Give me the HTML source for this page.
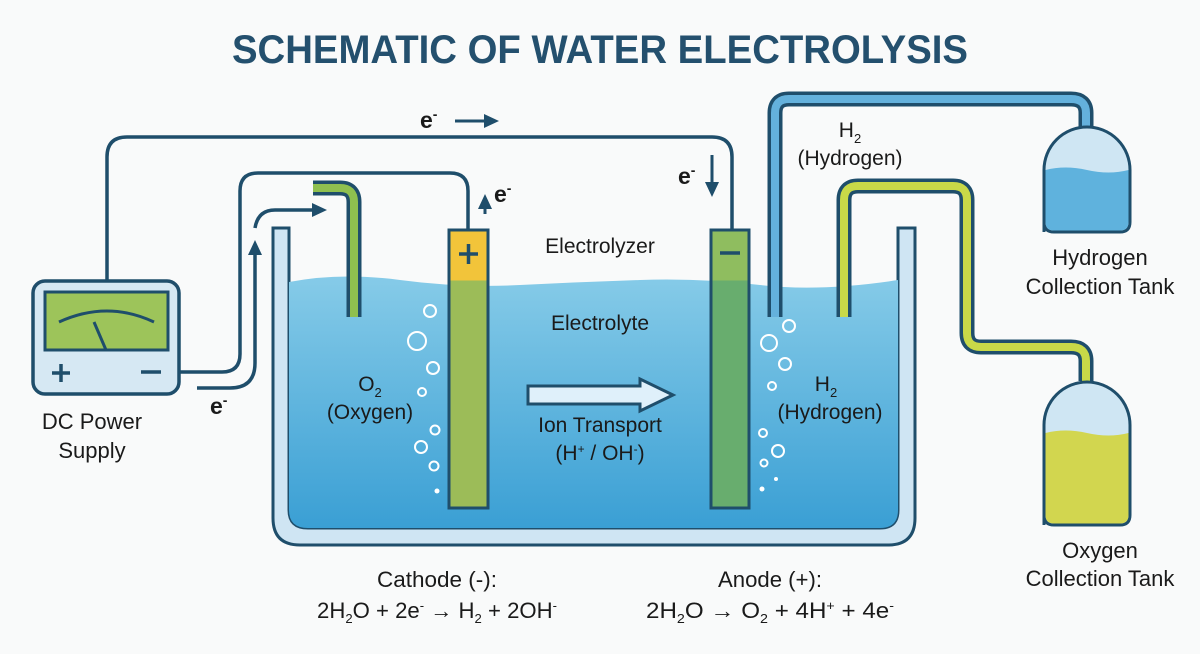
<!DOCTYPE html>
<html><head><meta charset="utf-8"><style>
html,body{margin:0;padding:0;background:#f9fafa;}
svg{display:block;}
text{font-family:"Liberation Sans",sans-serif;fill:#1a1a1a;}
</style></head><body>
<svg width="1200" height="654" viewBox="0 0 1200 654" xmlns="http://www.w3.org/2000/svg">
<defs>
<linearGradient id="water" x1="0" y1="0" x2="0" y2="1">
<stop offset="0" stop-color="#86cbe8"/><stop offset="1" stop-color="#3a9fd4"/>
</linearGradient>
<marker id="ah" markerWidth="16" markerHeight="14" refX="10" refY="7" orient="auto" markerUnits="userSpaceOnUse">
<path d="M0,0 L15,7 L0,14 Z" fill="#1f4e6b"/></marker>
</defs>
<rect width="1200" height="654" fill="#f9fafa"/>
<text x="600" y="63" text-anchor="middle" font-size="40" font-weight="bold" style="fill:#24506e" textLength="736" lengthAdjust="spacingAndGlyphs">SCHEMATIC OF WATER ELECTROLYSIS</text>

<!-- wires -->
<path d="M107,280 V157 Q107,137 127,137 H712 Q732,137 732,157 V230" fill="none" stroke="#1f4e6b" stroke-width="3.5"/>
<path d="M180,372 H222 Q240,372 240,354 V191 Q240,173 258,173 H450 Q468,173 468,191 V230" fill="none" stroke="#1f4e6b" stroke-width="3.5"/>
<path d="M197,388 H230 Q255,388 255,363 V245" fill="none" stroke="#1f4e6b" stroke-width="3.5" marker-end="url(#ah)"/>
<path d="M255,228 Q258,210 275,210 H322" fill="none" stroke="#1f4e6b" stroke-width="3.5" marker-end="url(#ah)"/>
<path d="M455,121 H494" stroke="#1f4e6b" stroke-width="3" marker-end="url(#ah)"/>
<path d="M485,214 V199" stroke="#1f4e6b" stroke-width="3" marker-end="url(#ah)"/>
<path d="M712,155 V192" stroke="#1f4e6b" stroke-width="3" marker-end="url(#ah)"/>
<text x="420" y="128" font-size="23" font-weight="bold">e<tspan dy="-9" font-size="14">-</tspan></text>
<text x="494" y="202" font-size="23" font-weight="bold">e<tspan dy="-9" font-size="14">-</tspan></text>
<text x="678" y="184" font-size="23" font-weight="bold">e<tspan dy="-9" font-size="14">-</tspan></text>
<text x="210" y="414" font-size="23" font-weight="bold">e<tspan dy="-9" font-size="14">-</tspan></text>

<!-- power supply -->
<rect x="33" y="281" width="146" height="113" rx="12" fill="#d6e8f3" stroke="#1f4e6b" stroke-width="3.5"/>
<rect x="45" y="292" width="123" height="58" fill="#9dc45a" stroke="#1f4e6b" stroke-width="3"/>
<path d="M59,322 Q107,300 154,322" fill="none" stroke="#1f4e6b" stroke-width="3"/>
<path d="M94,322 L106,350" stroke="#1f4e6b" stroke-width="3"/>
<path d="M52,373 H70 M61,364 V382 M141,372 H161" stroke="#1f4e6b" stroke-width="3.5"/>
<text x="92" y="429" text-anchor="middle" font-size="22">DC Power</text>
<text x="92" y="458" text-anchor="middle" font-size="22">Supply</text>

<!-- tank -->
<path d="M273,228 V518 Q273,545 300,545 H888 Q915,545 915,518 V228 H898 V510 Q898,528 880,528 H308 Q289,528 289,510 V228 Z" fill="#cfe5f3" stroke="#1f4e6b" stroke-width="3"/>
<path d="M289,282 Q340,272 400,280 T520,285 T640,280 T760,285 T898,280 V510 Q898,528 880,528 H308 Q289,528 289,510 Z" fill="url(#water)"/>

<!-- electrodes -->
<rect x="449" y="230" width="39" height="278" fill="#9cbc58" stroke="#1f4e6b" stroke-width="3"/>
<rect x="450.5" y="231.5" width="36" height="49" fill="#f2c43a"/>
<path d="M459,254 H478 M468.5,244 V264" stroke="#1f4e6b" stroke-width="3.5"/>
<rect x="711" y="230" width="38" height="278" fill="#68ad6e" stroke="#1f4e6b" stroke-width="3"/>
<rect x="712.5" y="231.5" width="35" height="49" fill="#8fbd5f"/>
<path d="M720,253 H740" stroke="#1f4e6b" stroke-width="3.5"/>

<!-- pipes -->
<path d="M313,188 H340 Q354,188 354,202 V317" fill="none" stroke="#1f4e6b" stroke-width="15"/>
<path d="M313,188 H340 Q354,188 354,202 V317" fill="none" stroke="#8fc04f" stroke-width="8"/>
<path d="M775,317 V113 Q775,99 789,99 H1071 Q1086,99 1086,113 V128" fill="none" stroke="#1f4e6b" stroke-width="15"/>
<path d="M775,317 V113 Q775,99 789,99 H1071 Q1086,99 1086,113 V128" fill="none" stroke="#64b1dc" stroke-width="8"/>
<path d="M844,317 V200 Q844,186 858,186 H953 Q967,186 967,200 V333 Q967,347 981,347 H1071 Q1086,347 1086,361 V381" fill="none" stroke="#1f4e6b" stroke-width="15"/>
<path d="M844,317 V200 Q844,186 858,186 H953 Q967,186 967,200 V333 Q967,347 981,347 H1071 Q1086,347 1086,361 V381" fill="none" stroke="#c8d948" stroke-width="8"/>

<!-- collection tanks -->
<path d="M1044,232 V170 A43,43 0 0 1 1130,170 V222 Q1130,232 1120,232 H1054 Q1044,232 1044,222 Z" fill="#cfe6f3" stroke="#1f4e6b" stroke-width="3"/>
<path d="M1045.5,170 Q1065,165 1087,170 T1128.5,170 V222 Q1128.5,230.5 1120,230.5 H1054 Q1045.5,230.5 1045.5,222 Z" fill="#5fb2dd"/>
<path d="M1044,525 V425 A43,43 0 0 1 1130,425 V515 Q1130,525 1120,525 H1054 Q1044,525 1044,515 Z" fill="#cfe6f3" stroke="#1f4e6b" stroke-width="3"/>
<path d="M1045.5,433 Q1065,428 1087,433 T1128.5,433 V515 Q1128.5,523.5 1120,523.5 H1054 Q1045.5,523.5 1045.5,515 Z" fill="#d2d64f"/>
<text x="1100" y="265" text-anchor="middle" font-size="22">Hydrogen</text>
<text x="1100" y="294" text-anchor="middle" font-size="22">Collection Tank</text>
<text x="1100" y="558" text-anchor="middle" font-size="22">Oxygen</text>
<text x="1100" y="586" text-anchor="middle" font-size="22">Collection Tank</text>

<!-- bubbles -->
<g fill="none" stroke="#ffffff" stroke-width="2">
<circle cx="430" cy="311" r="6"/><circle cx="417" cy="341" r="9"/><circle cx="433" cy="368" r="6"/><circle cx="422" cy="392" r="4"/><circle cx="435" cy="430" r="4.5"/><circle cx="421" cy="447" r="6"/><circle cx="434" cy="466" r="4.5"/>
<circle cx="789" cy="326" r="6"/><circle cx="769" cy="343" r="8"/><circle cx="785" cy="364" r="6"/><circle cx="772" cy="386" r="4"/><circle cx="763" cy="433" r="4"/><circle cx="778" cy="451" r="6"/><circle cx="764" cy="463" r="3.5"/>
</g>
<g fill="#ffffff"><circle cx="437" cy="491" r="2.5"/><circle cx="776" cy="479" r="2"/><circle cx="762" cy="489" r="2.5"/></g>

<!-- ion arrow -->
<path d="M528,386 H640 V379 L673,395 L640,411 V404 H528 Z" fill="#dff0fa" stroke="#1f4e6b" stroke-width="3"/>

<!-- labels -->
<text x="600" y="253" text-anchor="middle" font-size="21">Electrolyzer</text>
<text x="600" y="330" text-anchor="middle" font-size="21">Electrolyte</text>
<text x="600" y="432" text-anchor="middle" font-size="21">Ion Transport</text>
<text x="600" y="460" text-anchor="middle" font-size="21">(H<tspan dy="-7" font-size="12">+</tspan><tspan dy="7"> / OH</tspan><tspan dy="-7" font-size="12">-</tspan><tspan dy="7">)</tspan></text>
<text x="370" y="391" text-anchor="middle" font-size="21">O<tspan dy="6" font-size="13">2</tspan></text>
<text x="370" y="419" text-anchor="middle" font-size="21">(Oxygen)</text>
<text x="826" y="391" text-anchor="middle" font-size="21">H<tspan dy="6" font-size="13">2</tspan></text>
<text x="830" y="419" text-anchor="middle" font-size="21">(Hydrogen)</text>
<text x="850" y="137" text-anchor="middle" font-size="21">H<tspan dy="6" font-size="13">2</tspan></text>
<text x="850" y="165" text-anchor="middle" font-size="21">(Hydrogen)</text>

<text x="437" y="587" text-anchor="middle" font-size="22" textLength="120" lengthAdjust="spacingAndGlyphs">Cathode (-):</text>
<text x="437" y="618" text-anchor="middle" font-size="22" textLength="240" lengthAdjust="spacingAndGlyphs">2H<tspan dy="5" font-size="13">2</tspan><tspan dy="-5">O + 2e</tspan><tspan dy="-8" font-size="13">-</tspan><tspan dy="8"> → H</tspan><tspan dy="5" font-size="13">2</tspan><tspan dy="-5"> + 2OH</tspan><tspan dy="-8" font-size="13">-</tspan></text>
<text x="770" y="587" text-anchor="middle" font-size="22" textLength="104" lengthAdjust="spacingAndGlyphs">Anode (+):</text>
<text x="770" y="618" text-anchor="middle" font-size="22" textLength="248" lengthAdjust="spacingAndGlyphs">2H<tspan dy="5" font-size="13">2</tspan><tspan dy="-5">O → O</tspan><tspan dy="5" font-size="13">2</tspan><tspan dy="-5"> + 4H</tspan><tspan dy="-8" font-size="13">+</tspan><tspan dy="8"> + 4e</tspan><tspan dy="-8" font-size="13">-</tspan></text>
</svg>
</body></html>
